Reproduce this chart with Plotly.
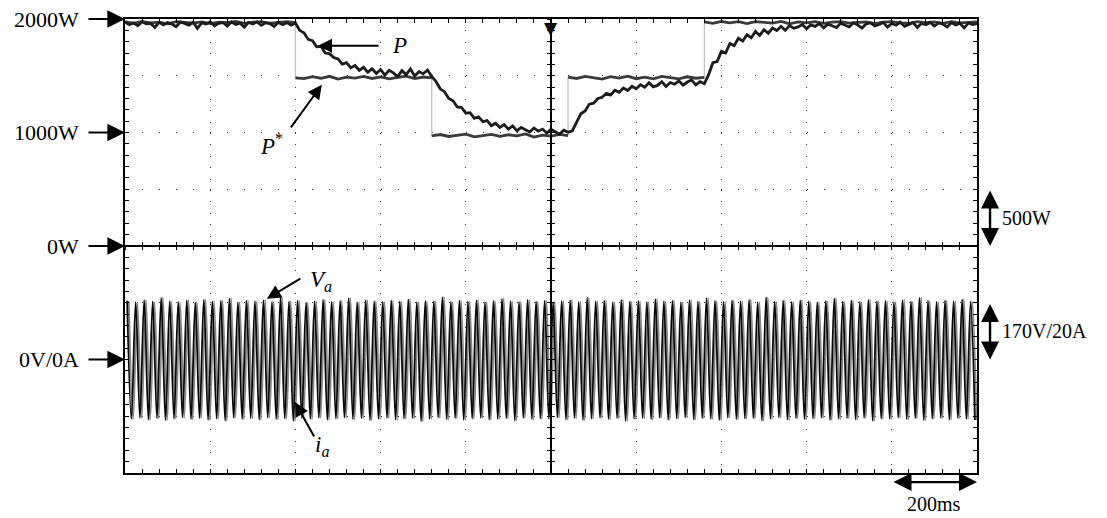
import plotly.graph_objects as go

# ---------------- data ----------------
# Active power P, sampled every 10 ms from 0 to 2000 ms (W)
P_watts = [
    1972, 1950, 1966, 1941, 1975, 1958, 1962, 1925, 1970, 1948,
    1968, 1956, 1932, 1974, 1960, 1945, 1971, 1918, 1965, 1955,
    1976, 1940, 1962, 1969, 1938, 1973, 1952, 1964, 1928, 1970,
    1957, 1975, 1944, 1966, 1960, 1935, 1972, 1950, 1968, 1946,
    1965, 1900, 1878, 1820, 1808, 1755, 1760, 1700, 1695, 1660,
    1648, 1602, 1615, 1570, 1590, 1548, 1575, 1530, 1562, 1520,
    1555, 1505, 1548, 1525, 1492, 1545, 1510, 1560, 1498, 1535,
    1518, 1550, 1495, 1450, 1385, 1360, 1300, 1280, 1225, 1220,
    1170, 1175, 1125, 1138, 1095, 1105, 1060, 1082, 1045, 1070,
    1030, 1058, 1015, 1045, 1025, 1005, 1040, 1012, 1030, 995,
    1028, 1008, 985, 1020, 1002, 1015, 1095, 1165, 1190, 1250,
    1258, 1300, 1310, 1345, 1330, 1372, 1355, 1392, 1370, 1408,
    1385, 1420, 1398, 1438, 1402, 1415, 1448, 1405, 1440, 1425,
    1455, 1418, 1445, 1462, 1420, 1448, 1430, 1510, 1615, 1625,
    1715, 1700, 1785, 1765, 1830, 1805, 1862, 1835, 1890, 1855,
    1905, 1875, 1920, 1898, 1935, 1900, 1942, 1918, 1930, 1952,
    1915, 1948, 1935, 1960, 1922, 1955, 1940, 1925, 1962, 1945,
    1930, 1966, 1948, 1920, 1958, 1965, 1938, 1952, 1970, 1928,
    1960, 1945, 1972, 1935, 1955, 1968, 1925, 1962, 1950, 1970,
    1938, 1965, 1955, 1930, 1968, 1948, 1962, 1922, 1966, 1952,
    1960,
]
P_step_ms = 10

# Power reference P*, one list per step segment, sampled every 20 ms (W)
Pref_seg_start_ms = [0, 400, 720, 1040, 1360]
Pref_segments = [
    [1976, 1962, 1978, 1966, 1972, 1958, 1977, 1968, 1964, 1975, 1960,
     1973, 1967, 1978, 1961, 1972, 1976, 1963, 1970, 1977, 1968],
    [1482, 1474, 1492, 1478, 1495, 1470, 1488, 1480, 1494, 1476, 1490,
     1472, 1486, 1497, 1475, 1489, 1481],
    [970, 982, 965, 978, 986, 962, 975, 984, 966, 980, 971,
     988, 960, 977, 969, 983, 972],
    [1488, 1476, 1494, 1480, 1470, 1492, 1479, 1497, 1474, 1487, 1472,
     1495, 1483, 1473, 1491, 1478, 1486],
    [1975, 1962, 1978, 1966, 1976, 1960, 1977, 1968, 1963, 1978, 1958,
     1974, 1966, 1977, 1961, 1972, 1976, 1963, 1969, 1975, 1959, 1973,
     1977, 1965, 1961, 1976, 1968, 1974, 1962, 1977, 1966, 1972, 1975],
]
Pref_step_ms = 20

# Phase-a voltage and current: positive / negative peak of every 50 Hz cycle
Va_peak_V = [
    176, 172, 178, 174, 185, 175, 173, 177, 171, 179,
    174, 176, 183, 172, 177, 175, 178, 173, 186, 174,
    177, 171, 175, 179, 173, 176, 184, 172, 178, 175,
    173, 177, 174, 180, 172, 176, 175, 187, 173, 177,
    174, 178, 172, 176, 182, 175, 173, 179, 174, 177,
    171, 176, 178, 173, 185, 175, 177, 172, 179, 174,
    176, 173, 181, 175, 177, 172, 178, 174, 184, 176,
    173, 177, 175, 179, 172, 186, 174, 177, 173, 178,
    175, 172, 176, 183, 174, 177, 173, 179, 175, 176,
    172, 178, 174, 185, 176, 173, 177, 175, 180, 174,
]
Va_trough_V = [
    -178, -175, -180, -176, -182, -177, -174, -179, -176, -181,
    -177, -183, -175, -178, -176, -180, -174, -179, -177, -184,
    -176, -178, -175, -181, -177, -174, -179, -176, -182, -178,
    -175, -180, -177, -176, -185, -178, -174, -179, -176, -181,
    -177, -175, -180, -178, -176, -183, -175, -179, -177, -178,
    -174, -180, -176, -182, -177, -175, -179, -176, -184, -178,
    -176, -179, -175, -181, -177, -174, -180, -176, -178, -182,
    -175, -179, -177, -176, -183, -178, -174, -180, -176, -179,
    -177, -175, -181, -178, -176, -180, -175, -184, -177, -178,
    -174, -179, -176, -182, -177, -175, -180, -176, -178, -181,
]
ia_peak_A = [
    20.6, 20.2, 21.0, 20.4, 21.8, 20.5, 20.1, 20.9, 20.3, 21.2,
    20.5, 20.8, 21.6, 20.2, 20.7, 20.4, 21.0, 20.3, 21.9, 20.6,
    20.8, 20.1, 20.5, 21.1, 20.3, 20.7, 21.7, 20.2, 20.9, 20.5,
    20.3, 20.8, 20.4, 21.3, 20.2, 20.6, 20.5, 22.0, 20.3, 20.8,
    20.4, 21.0, 20.2, 20.6, 21.5, 20.5, 20.3, 21.1, 20.4, 20.8,
    20.1, 20.6, 21.0, 20.3, 21.8, 20.5, 20.8, 20.2, 21.1, 20.4,
    20.6, 20.3, 21.4, 20.5, 20.8, 20.2, 21.0, 20.4, 21.7, 20.6,
    20.3, 20.8, 20.5, 21.1, 20.2, 21.9, 20.4, 20.8, 20.3, 21.0,
    20.5, 20.2, 20.6, 21.6, 20.4, 20.8, 20.3, 21.1, 20.5, 20.6,
    20.2, 21.0, 20.4, 21.8, 20.6, 20.3, 20.8, 20.5, 21.3, 20.4,
]
ia_trough_A = [
    -21.0, -20.6, -21.3, -20.8, -21.5, -20.9, -20.5, -21.2, -20.7, -21.4,
    -20.9, -21.6, -20.6, -21.1, -20.8, -21.3, -20.5, -21.2, -20.9, -21.7,
    -20.8, -21.1, -20.6, -21.4, -20.9, -20.5, -21.2, -20.8, -21.5, -21.0,
    -20.6, -21.3, -20.9, -20.8, -21.8, -21.0, -20.5, -21.2, -20.8, -21.4,
    -20.9, -20.6, -21.3, -21.0, -20.8, -21.6, -20.6, -21.2, -20.9, -21.0,
    -20.5, -21.3, -20.8, -21.5, -20.9, -20.6, -21.2, -20.8, -21.7, -21.0,
    -20.8, -21.2, -20.6, -21.4, -20.9, -20.5, -21.3, -20.8, -21.0, -21.5,
    -20.6, -21.2, -20.9, -20.8, -21.6, -21.0, -20.5, -21.3, -20.8, -21.2,
    -20.9, -20.6, -21.4, -21.0, -20.8, -21.3, -20.6, -21.7, -20.9, -21.0,
    -20.5, -21.2, -20.8, -21.5, -20.9, -20.6, -21.3, -20.8, -21.0, -21.4,
]
cycle_ms = 20
ia_lag_ms = 4

# oscilloscope scales
watts_per_div = 500
volts_per_div = 170
amps_per_div = 20
vi_offset_div = -2          # 0V/0A marker position
x_div_ms = 200

FONT = "Liberation Serif"

# ---------------- build figure ----------------
fig = go.Figure()


def extremes(peaks, troughs, scale, lag):
    xs, ys = [], []
    for k, (pk, tr) in enumerate(zip(peaks, troughs)):
        xs += [k * cycle_ms + cycle_ms / 4 + lag, k * cycle_ms + 3 * cycle_ms / 4 + lag]
        ys += [pk / scale + vi_offset_div, tr / scale + vi_offset_div]
    return xs, ys


ix, iy = extremes(ia_peak_A, ia_trough_A, amps_per_div, ia_lag_ms)
fig.add_trace(go.Scatter(x=ix, y=iy, mode="lines",
                         line=dict(color="#888888", width=1.8, shape="spline", smoothing=1),
                         hoverinfo="skip"))
vx, vy = extremes(Va_peak_V, Va_trough_V, volts_per_div, 0)
fig.add_trace(go.Scatter(x=vx, y=vy, mode="lines",
                         line=dict(color="#0a0a0a", width=1.8, shape="spline", smoothing=1),
                         hoverinfo="skip"))

# P* steps (light grey vertical edges)
for k in range(1, len(Pref_segments)):
    t = Pref_seg_start_ms[k]
    fig.add_trace(go.Scatter(
        x=[t, t],
        y=[Pref_segments[k - 1][-1] / watts_per_div, Pref_segments[k][0] / watts_per_div],
        mode="lines", line=dict(color="#c4c4c4", width=1.3), hoverinfo="skip"))

# P* levels
for start, seg in zip(Pref_seg_start_ms, Pref_segments):
    fig.add_trace(go.Scatter(
        x=[start + i * Pref_step_ms for i in range(len(seg))],
        y=[v / watts_per_div for v in seg],
        mode="lines", line=dict(color="#3a3a3a", width=2.8), hoverinfo="skip"))

# P
fig.add_trace(go.Scatter(
    x=[i * P_step_ms for i in range(len(P_watts))],
    y=[v / watts_per_div for v in P_watts],
    mode="lines", line=dict(color="#1c1c1c", width=2.8), hoverinfo="skip"))

# dummy traces for the centre cross axes
fig.add_trace(go.Scatter(x=[None], y=[None], xaxis="x2", yaxis="y2", hoverinfo="skip"))
fig.add_trace(go.Scatter(x=[None], y=[None], xaxis="x3", yaxis="y3", hoverinfo="skip"))

XR = [0, 10 * x_div_ms]
YR = [-4, 4]

frame_common = dict(showline=True, linewidth=2, linecolor="black", mirror="ticks",
                    ticks="inside", ticklen=4, tickwidth=1, tickcolor="black",
                    showticklabels=False, zeroline=False, showgrid=True,
                    gridcolor="#3a3a3a", gridwidth=1)

fig.update_layout(
    width=1107, height=518,
    margin=dict(l=117, r=138, t=9, b=53),
    paper_bgcolor="white", plot_bgcolor="white",
    showlegend=False,
    font=dict(family=FONT, size=21, color="black"),
    xaxis=dict(range=XR, dtick=x_div_ms, tick0=0, griddash="1px,10.4px",
               minor=dict(dtick=x_div_ms / 5, tick0=0, ticks="inside", ticklen=4,
                          tickcolor="black", tickwidth=1, showgrid=False),
               **frame_common),
    yaxis=dict(range=YR, dtick=1, tick0=0, griddash="1px,16.04px",
               minor=dict(dtick=0.2, tick0=0, ticks="inside", ticklen=4,
                          tickcolor="black", tickwidth=1, showgrid=False),
               **frame_common),
)

cross_common = dict(showline=True, linewidth=1.5, linecolor="black", ticklen=3,
                    tickwidth=1, tickcolor="black", showticklabels=False,
                    showgrid=False, zeroline=False, layer="above traces")
fig.update_layout(
    xaxis2=dict(overlaying="x", anchor="free", position=0.5, range=XR, dtick=x_div_ms,
                ticks="outside", minor=dict(dtick=x_div_ms / 5, ticks="outside", ticklen=3,
                                            tickcolor="black"), **cross_common),
    yaxis2=dict(overlaying="y", anchor="free", position=0.5, range=YR, dtick=1,
                ticks="outside", minor=dict(dtick=0.2, ticks="outside", ticklen=3,
                                            tickcolor="black"), **cross_common),
    xaxis3=dict(overlaying="x", anchor="free", position=0.5, range=XR, dtick=x_div_ms,
                ticks="inside", minor=dict(dtick=x_div_ms / 5, ticks="inside", ticklen=3,
                                           tickcolor="black"), **cross_common),
    yaxis3=dict(overlaying="y", anchor="free", position=0.5, range=YR, dtick=1,
                ticks="inside", minor=dict(dtick=0.2, ticks="inside", ticklen=3,
                                           tickcolor="black"), **cross_common),
)

ann = []
# left channel markers
left_labels = [("2000W", 2000 / watts_per_div), ("1000W", 1000 / watts_per_div),
               ("0W", 0), ("0V/0A", vi_offset_div)]
for txt, yv in left_labels:
    ann.append(dict(x=0, y=yv, xref="x", yref="y", text="", showarrow=True,
                    ax=-38, ay=0, arrowhead=2, arrowsize=1.6, arrowwidth=2.2,
                    arrowcolor="black"))
    ann.append(dict(x=0, y=yv, xref="x", yref="y", text=txt, showarrow=False,
                    xanchor="right", yanchor="middle", xshift=-44,
                    font=dict(family=FONT, size=22)))

# scale arrows on the right
ann.append(dict(x=1.0153, y=0, xref="paper", yref="y", text="", showarrow=True,
                ax=0, ay=-57, arrowhead=2, startarrowhead=2, arrowside="end+start",
                arrowsize=1.5, startarrowsize=1.5, arrowwidth=2.4, arrowcolor="black"))
ann.append(dict(x=1.027, y=0.5, xref="paper", yref="y", text="500W", showarrow=False,
                xanchor="left", yanchor="middle", font=dict(family=FONT, size=20)))
ann.append(dict(x=1.0153, y=vi_offset_div, xref="paper", yref="y", text="", showarrow=True,
                ax=0, ay=-57, arrowhead=2, startarrowhead=2, arrowside="end+start",
                arrowsize=1.5, startarrowsize=1.5, arrowwidth=2.4, arrowcolor="black"))
ann.append(dict(x=1.027, y=vi_offset_div + 0.5, xref="paper", yref="y", text="170V/20A",
                showarrow=False, xanchor="left", yanchor="middle",
                font=dict(family=FONT, size=20)))
# time scale arrow
ann.append(dict(x=XR[1], y=-0.02, xref="x", yref="paper", text="", showarrow=True,
                ax=-85, ay=0, arrowhead=2, startarrowhead=2, arrowside="end+start",
                arrowsize=1.5, startarrowsize=1.5, arrowwidth=2.4, arrowcolor="black"))
ann.append(dict(x=XR[1] - x_div_ms / 2, y=-0.068, xref="x", yref="paper", text="200ms",
                showarrow=False, xanchor="center", yanchor="middle",
                font=dict(family=FONT, size=20)))

# trace labels
lab_font = dict(family=FONT, size=23, color="black")
ann.append(dict(x=453, y=3.53, text="", showarrow=True, ax=62, ay=0,
                arrowhead=2, arrowsize=1.4, arrowwidth=2, arrowcolor="black"))
ann.append(dict(x=645, y=3.53, text="<i>P</i>", showarrow=False, font=lab_font))
ann.append(dict(x=462, y=2.84, text="", showarrow=True, ax=-32, ay=44,
                arrowhead=2, arrowsize=1.4, arrowwidth=2, arrowcolor="black"))
ann.append(dict(x=345, y=1.78, text="<i>P</i><sup>*</sup>", showarrow=False, font=lab_font))
ann.append(dict(x=333, y=-0.93, text="", showarrow=True, ax=35, ay=-21,
                arrowhead=2, arrowsize=1.4, arrowwidth=2, arrowcolor="black"))
ann.append(dict(x=460, y=-0.62, text="<i>V</i><sub><i>a</i></sub>", showarrow=False,
                font=lab_font))
ann.append(dict(x=399, y=-2.75, text="", showarrow=True, ax=20, ay=36,
                arrowhead=2, arrowsize=1.4, arrowwidth=2, arrowcolor="black"))
ann.append(dict(x=462, y=-3.52, text="<i>i</i><sub><i>a</i></sub>", showarrow=False,
                font=lab_font))
# trigger marker at top centre
ann.append(dict(x=XR[1] / 2, y=4, xref="x", yref="y", text="▼", showarrow=False,
                yanchor="top", yshift=3, font=dict(family="DejaVu Sans", size=17, color="black")))

fig.update_layout(annotations=ann)

fig.write_html("out.html")
